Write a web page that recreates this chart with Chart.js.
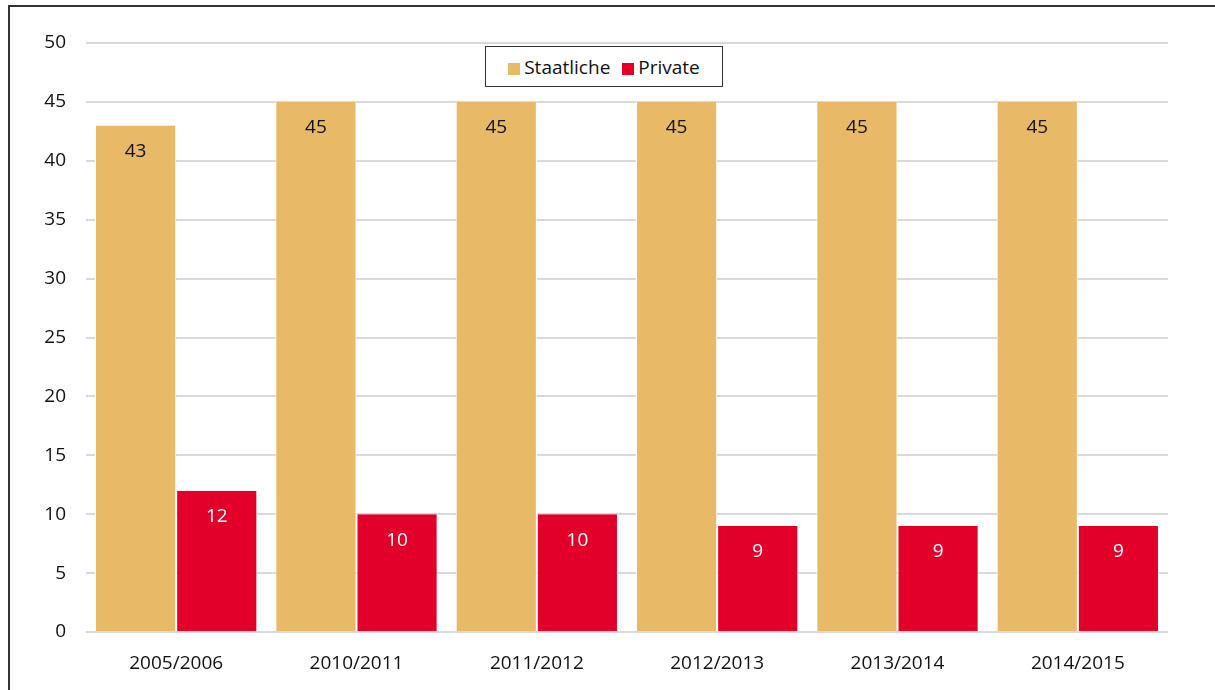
<!DOCTYPE html>
<html>
<head>
  <meta charset="UTF-8">
  <title>Staatliche und private Einrichtungen</title>
  <script src="https://cdn.jsdelivr.net/npm/chart.js"></script>
  <style>
    html, body { margin: 0; padding: 0; background: #fff; }
    body { width: 1215px; height: 690px; position: relative; overflow: hidden; font-family: "Open Sans", sans-serif; }
    .frame { position: absolute; left: 8px; top: 5px; width: 1220px; height: 700px; border-left: 2px solid #333; border-top: 2px solid #333; box-sizing: border-box; }
    .wrap { position: absolute; left: 0; top: 0; width: 1215px; height: 690px; }
    .legend {
      position: absolute; left: 485px; top: 46px; width: 238px; height: 41px; box-sizing: border-box;
      border: 1px solid #333; background: #fff; display: flex; align-items: center; justify-content: center;
      font-size: 19px; color: #111; gap: 12px;
    }
    .legend span.sw { display: inline-block; width: 12px; height: 12px; margin-right: 4px; vertical-align: -1px; }
  </style>
</head>
<body>
  <div class="frame"></div>
  <div class="wrap"><canvas id="chart" width="1215" height="690"></canvas></div>
  <div class="legend">
    <div><span class="sw" style="background:#e8b966"></span>Staatliche</div>
    <div><span class="sw" style="background:#e2002a"></span>Private</div>
  </div>
  <script>
    const years = ["2005/2006", "2010/2011", "2011/2012", "2012/2013", "2013/2014", "2014/2015"];
    const staatliche = [43, 45, 45, 45, 45, 45];
    const privat = [12, 10, 10, 9, 9, 9];

    // value labels just below the top of each bar
    const barLabels = {
      id: "barLabels",
      afterDatasetsDraw(chart) {
        const ctx = chart.ctx;
        ctx.save();
        ctx.font = "19px 'Open Sans', sans-serif";
        ctx.textAlign = "center";
        ctx.textBaseline = "middle";
        chart.data.datasets.forEach((ds, i) => {
          chart.getDatasetMeta(i).data.forEach((bar, j) => {
            ctx.fillStyle = i === 0 ? "#111111" : "#ffffff";
            ctx.fillText(ds.data[j], bar.x, bar.y + 26);
          });
        });
        ctx.restore();
      }
    };

    new Chart(document.getElementById("chart"), {
      type: "bar",
      data: {
        labels: years,
        datasets: [
          { label: "Staatliche", data: staatliche, backgroundColor: "#e8b966", borderColor: "#ffffff", borderWidth: { left: 1, right: 1 }, borderSkipped: false },
          { label: "Private", data: privat, backgroundColor: "#e2002a", borderColor: "#ffffff", borderWidth: { left: 1, right: 1 }, borderSkipped: false }
        ]
      },
      options: {
        responsive: false,
        animation: false,
        layout: { padding: { top: 43, right: 47, left: 0, bottom: 0 } },
        categoryPercentage: 0.9,
        barPercentage: 1.0,
        plugins: { legend: { display: false }, tooltip: { enabled: false } },
        scales: {
          x: {
            grid: { display: false },
            border: { display: false },
            ticks: { color: "#111", font: { size: 19, family: "Open Sans" }, padding: 12 },
            afterFit(scale) { scale.height = 58; }
          },
          y: {
            min: 0, max: 50,
            ticks: { stepSize: 5, color: "#111", font: { size: 19, family: "Open Sans" }, padding: 20 },
            grid: { color: "#d9d9d9", lineWidth: 2, drawTicks: false },
            border: { display: false },
            afterFit(scale) { scale.width = 86; }
          }
        }
      },
      plugins: [barLabels]
    });
  </script>
</body>
</html>
